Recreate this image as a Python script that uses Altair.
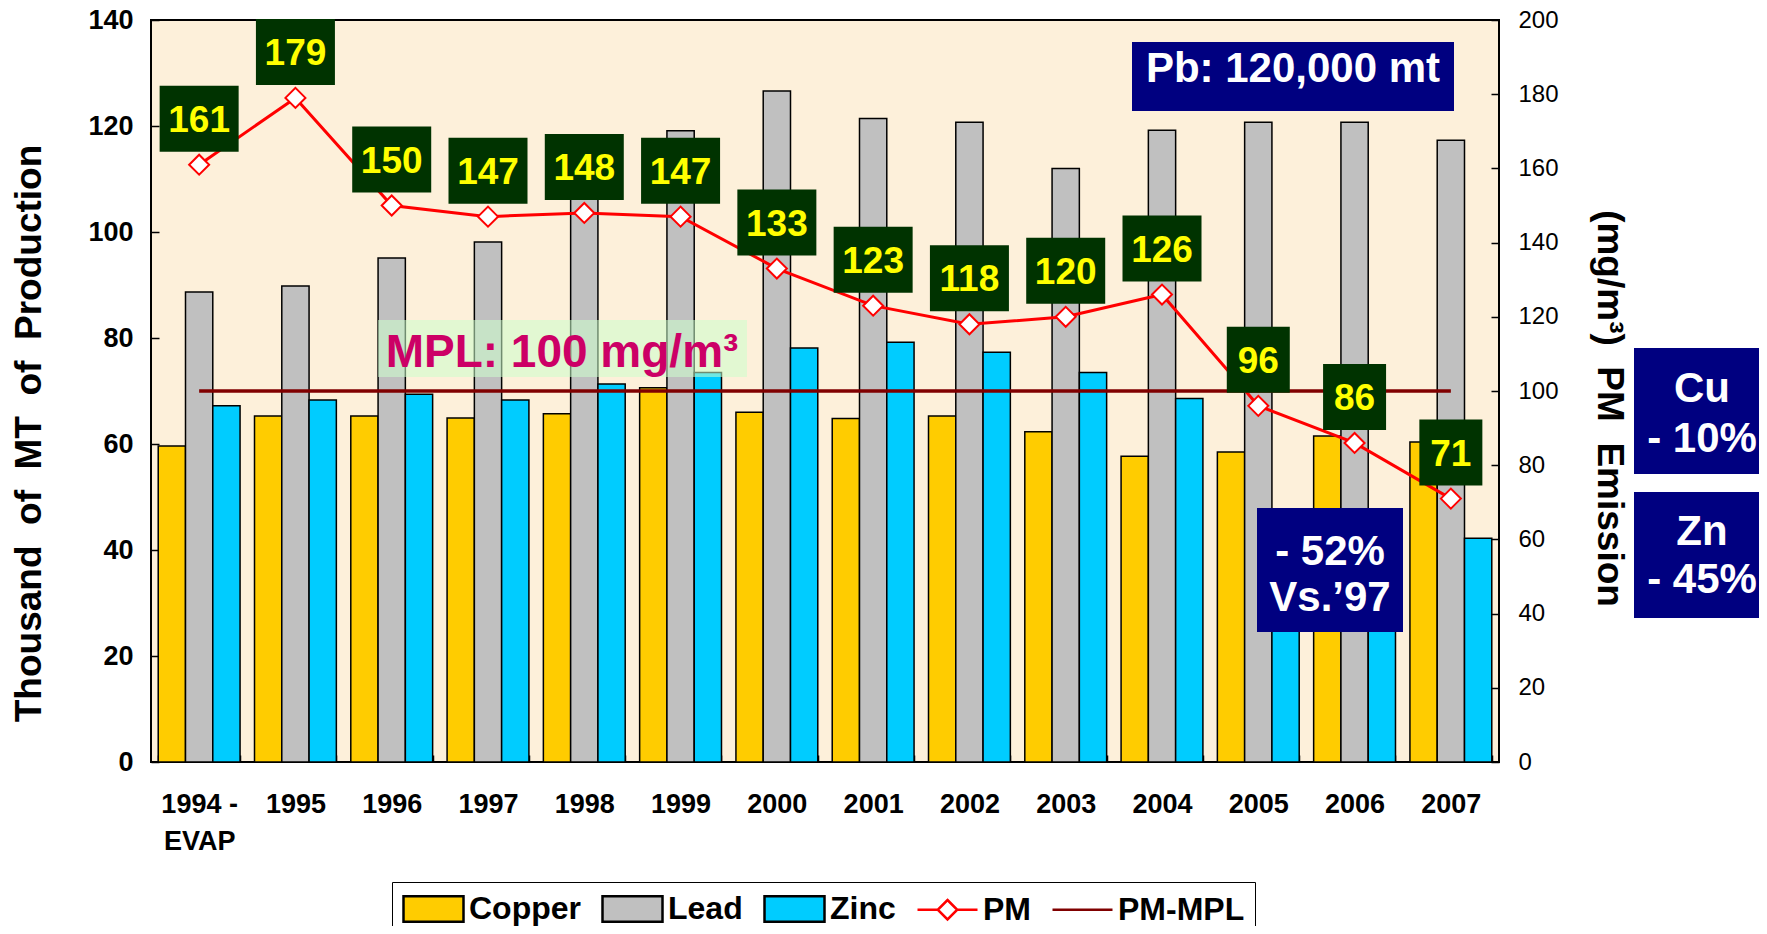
import altair as alt
import pandas as pd

# ---------------- data ----------------
YEARS = ["1994 - EVAP", "1995", "1996", "1997", "1998", "1999", "2000",
         "2001", "2002", "2003", "2004", "2005", "2006", "2007"]
COPPER = [59.6, 65.3, 65.3, 64.9, 65.7, 70.6, 66.0, 64.8, 65.3, 62.3, 57.7, 58.5, 61.5, 60.4]
LEAD = [88.7, 89.8, 95.1, 98.1, 110.0, 119.1, 126.6, 121.4, 120.7, 112.0, 119.2, 120.7, 120.7, 117.3]
ZINC = [67.2, 68.3, 69.4, 68.3, 71.3, 73.5, 78.1, 79.2, 77.3, 73.5, 68.6, 40.0, 41.0, 42.2]
PM = [161, 179, 150, 147, 148, 147, 133, 123, 118, 120, 126, 96, 86, 71]
PM_MPL = [100, 100, 100, 100, 100, 100, 100, 100, 100, 100, 100, 100, 100, 100]

METALS = ["Copper", "Lead", "Zinc"]
LEGEND_ITEMS = ["Copper", "Lead", "Zinc", "PM", "PM-MPL"]
LEFT_TICKS = [0, 20, 40, 60, 80, 100, 120, 140]
RIGHT_TICKS = [0, 20, 40, 60, 80, 100, 120, 140, 160, 180, 200]

LEFT_TITLE = "Thousand\u00a0\u00a0of\u00a0\u00a0MT\u00a0\u00a0of\u00a0\u00a0Production"
RIGHT_TITLE = "(mg/m\u00b3)\u00a0\u00a0PM\u00a0\u00a0Emission"
ANNOT_PB = "Pb: 120,000 mt"
ANNOT_MPL = "MPL: 100 mg/m\u00b3"
ANNOT_DROP = "- 52%\nVs.\u201997"
ANNOT_CU = "Cu\n- 10%"
ANNOT_ZN = "Zn\n- 45%"

# ---------------- styles ----------------
FONT = "Liberation Sans"
METAL_COLORS = ["#FFCC00", "#C0C0C0", "#00CCFF"]
PM_RED = "#FF0000"
MPL_RED = "#800000"
LABEL_BOX = "#003300"
LABEL_TXT = "#FFFF00"
NAVY = "#000080"
LEG_FILLS = METAL_COLORS + ["#FFFFFF", MPL_RED]
LEG_STROKES = ["#000000", "#000000", "#000000", PM_RED, MPL_RED]
RECT_PATH = "M-2,-0.85H2V0.85H-2Z"
LEG_SHAPES = [RECT_PATH, RECT_PATH, RECT_PATH,
              "M-2,0H-0.65M0.65,0H2M0,-0.65L0.65,0L0,0.65L-0.65,0Z",
              "M-2,0H2"]

W, H = 1348, 742

# ---------------- tables ----------------
bars_df = pd.DataFrame({
    "year": YEARS * 3,
    "series": [m for m in METALS for _ in YEARS],
    "value": COPPER + LEAD + ZINC,
})
pm_df = pd.DataFrame({"year": YEARS, "pm": PM, "mpl": PM_MPL,
                      "label": [str(v) for v in PM]})
legend_df = pd.DataFrame({"series": LEGEND_ITEMS})

x_scale = alt.Scale(domain=YEARS, paddingInner=0.15, paddingOuter=0.075)
x_axis = alt.Axis(
    title=None, labelAngle=0, labelFontSize=27, labelFontWeight="bold",
    labelPadding=29, labelLineHeight=37, tickSize=7, tickWidth=1.5,
    tickBand="extent", offset=-7, domain=False,
    labelExpr="datum.value == '1994 - EVAP' ? ['1994 -', 'EVAP'] : datum.value")
# the same axis definition is given to every layer that uses x, so that they merge
x_enc = alt.X("year:N", scale=x_scale, axis=x_axis)
y_right_scale = alt.Scale(domain=[0, 200], nice=False, zero=True)

# ---------------- bars (left axis) ----------------
bars = alt.Chart(bars_df).mark_bar(stroke="black", strokeWidth=1.5).encode(
    x=x_enc,
    xOffset=alt.XOffset("series:N", scale=alt.Scale(domain=METALS, paddingInner=0, paddingOuter=0)),
    y=alt.Y("value:Q", scale=alt.Scale(domain=[0, 140], nice=False, zero=True), axis=alt.Axis(
        values=LEFT_TICKS, title=LEFT_TITLE, titleFontSize=37, titleFontWeight="bold",
        titleAngle=270, titleAlign="center", titleBaseline="middle",
        titleX=-130, titleY=413, labelFontSize=27, labelFontWeight="bold",
        labelPadding=18, tickSize=8, tickWidth=1.5, offset=-8, domain=False, grid=False)),
    fill=alt.Fill("series:N", scale=alt.Scale(domain=METALS, range=METAL_COLORS), legend=None),
)

# ---------------- PM (right axis) ----------------
base = alt.Chart(pm_df)
mpl_line = base.mark_line(color=MPL_RED, strokeWidth=3.5).encode(
    x=x_enc, y=alt.Y("mpl:Q", scale=y_right_scale, axis=None))
pm_line = base.mark_line(color=PM_RED, strokeWidth=3).encode(
    x=x_enc,
    y=alt.Y("pm:Q", scale=y_right_scale, axis=alt.Axis(
        orient="right", values=RIGHT_TICKS, title=RIGHT_TITLE, titleFontSize=37,
        titleFontWeight="bold", titleAngle=90, titleAlign="center", titleBaseline="middle",
        titleX=117, titleY=388, labelFontSize=24, labelFontWeight="normal",
        labelPadding=19, tickSize=8, tickWidth=1.5, offset=-8, domain=False, grid=False)))
pm_pts = base.mark_point(shape="diamond", filled=True, fill="white", stroke=PM_RED,
                         strokeWidth=2, size=400, opacity=1).encode(
    x=x_enc, y=alt.Y("pm:Q", scale=y_right_scale, axis=None))
box3 = base.transform_filter("datum.pm >= 100").mark_bar(
    width=79, color=LABEL_BOX, yOffset=-79, y2Offset=-13).encode(
    x=x_enc, y=alt.Y("pm:Q", scale=y_right_scale, axis=None), y2=alt.Y2("pm"))
box2 = base.transform_filter("datum.pm < 100").mark_bar(
    width=63, color=LABEL_BOX, yOffset=-79, y2Offset=-13).encode(
    x=x_enc, y=alt.Y("pm:Q", scale=y_right_scale, axis=None), y2=alt.Y2("pm"))
lbl = base.mark_text(font=FONT, fontSize=37, fontWeight="bold", color=LABEL_TXT,
                     baseline="middle", align="center", dy=-44).encode(
    x=x_enc, y=alt.Y("pm:Q", scale=y_right_scale, axis=None), text="label:N")

legend = alt.Legend(orient="none", legendX=241, legendY=862, direction="horizontal",
                    columns=5, title=None, labelFont=FONT, labelFontSize=32,
                    labelFontWeight="bold", labelColor="black", symbolSize=900,
                    symbolOffset=15, labelOffset=19, symbolStrokeWidth=2.5,
                    symbolOpacity=1, columnPadding=16, padding=10,
                    strokeColor="black", fillColor="white")
helper = alt.Chart(legend_df).mark_point(filled=True, opacity=1, clip=True).encode(
    x=alt.value(-500), y=alt.value(-500),
    color=alt.Color("series:N", scale=alt.Scale(domain=LEGEND_ITEMS, range=LEG_FILLS), legend=legend),
    stroke=alt.Stroke("series:N", scale=alt.Scale(domain=LEGEND_ITEMS, range=LEG_STROKES), legend=legend),
    shape=alt.Shape("series:N", scale=alt.Scale(domain=LEGEND_ITEMS, range=LEG_SHAPES), legend=legend),
)


# ---------------- annotations ----------------
def ann_box(text, x, x2, y, y2, color, opacity=1.0):
    return alt.Chart(pd.DataFrame({"t": [text]})).mark_rect(color=color, opacity=opacity).encode(
        x=alt.value(x), x2=alt.value(x2), y=alt.value(y), y2=alt.value(y2))


def ann_text(text, x, y, size, color, baseline="middle", line_height=None):
    kw = dict(font=FONT, fontSize=size, fontWeight="bold", color=color,
              align="center", baseline=baseline, lineBreak="\n")
    if line_height is not None:
        kw["lineHeight"] = line_height
    return alt.Chart(pd.DataFrame({"t": [text]})).mark_text(**kw).encode(
        x=alt.value(x), y=alt.value(y), text="t:N")


annots = [
    ann_box(ANNOT_MPL, 227, 596, 300, 357, "#CCFFCC", 0.55),
    ann_text(ANNOT_MPL, 411, 347, 46, "#CC0066", baseline="alphabetic"),
    ann_box(ANNOT_PB, 981, 1303, 22, 91, NAVY),
    ann_text(ANNOT_PB, 1142, 49, 42, "white"),
    ann_box(ANNOT_DROP, 1106, 1252, 488, 612, NAVY),
    ann_text(ANNOT_DROP, 1179, 532, 42, "white", line_height=46),
    ann_box(ANNOT_CU, 1483, 1620, 328, 454, NAVY),
    ann_text(ANNOT_CU, 1551, 369, 42, "white", line_height=50),
    ann_box(ANNOT_ZN, 1483, 1620, 472, 598, NAVY),
    ann_text(ANNOT_ZN, 1551, 512, 42, "white", line_height=48),
]

chart = alt.layer(
    bars, mpl_line, pm_line, pm_pts, box3, box2, lbl, helper, *annots
).resolve_scale(y="independent").properties(
    width=W, height=H,
    padding={"left": 143, "top": 12, "right": 260, "bottom": 164},
    autosize=alt.AutoSizeParams(type="none"),
    background="white",
).configure_view(
    fill="#FDF0DA", stroke="black", strokeWidth=2
).configure_axis(
    labelFont=FONT, titleFont=FONT, labelColor="black", titleColor="black",
    tickColor="black", domainColor="black"
).configure_text(font=FONT)

chart.save("out.html", embed_options={"renderer": "svg", "actions": False})
